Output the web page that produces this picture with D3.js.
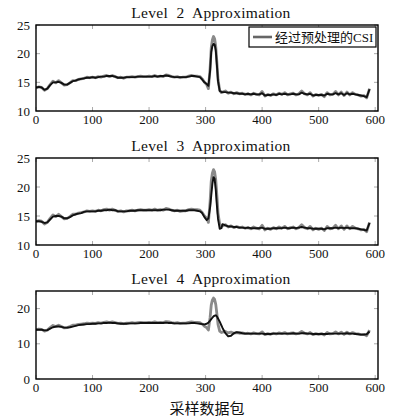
<!DOCTYPE html>
<html><head><meta charset="utf-8">
<script src="https://cdn.jsdelivr.net/npm/d3@7"></script>
<style>
body{margin:0;background:#fff;}
svg{display:block;}
.serif{font-family:"Liberation Serif","DejaVu Serif",serif;}
.cjk{font-family:"Noto Sans CJK SC",sans-serif;}
.leg{font-family:"Liberation Serif","Noto Sans CJK SC",serif;}
</style></head>
<body>
<svg id="c" width="394" height="419"></svg>
<script>
// ---- data ----
const packets = [0,5,10,15,20,25,30,35,40,45,50,55,60,65,70,75,80,85,90,95,
100,105,110,115,120,125,130,135,140,145,150,155,160,165,170,175,180,185,190,195,
200,205,210,215,220,225,230,235,240,245,250,255,260,265,270,275,280,285,290,
294,298,302,305,308,310,312,314,316,318,320,322,325,328,
330,335,340,345,350,355,360,365,370,375,380,385,390,395,400,405,410,415,420,425,
430,435,440,445,450,455,460,465,470,475,480,485,490,495,500,505,510,515,520,525,
530,535,540,545,550,555,560,565,570,575,580,585,590];

const csiRaw = [14.0,14.2,14.1,13.6,13.9,14.6,15.2,14.9,15.3,14.9,
14.5,14.6,14.9,15.3,15.3,15.5,15.6,15.7,15.9,15.8,
15.9,15.8,16.0,15.9,16.1,16.2,16.0,16.2,16.0,15.8,
15.9,15.7,15.9,15.9,16.0,15.9,16.0,16.1,16.0,16.0,
16.1,16.0,16.2,16.0,16.1,16.0,16.3,16.2,16.0,15.9,
16.0,15.8,15.9,15.9,16.1,16.2,16.1,16.1,16.0,
15.6,15.0,14.6,13.9,17.5,21.0,22.4,23.0,22.6,21.2,18.5,15.5,13.6,13.2,
13.3,13.5,13.1,13.3,13.0,13.2,13.0,13.1,12.9,13.0,
12.8,13.1,12.9,12.8,13.4,12.6,12.9,12.7,13.0,12.8,
13.1,12.9,13.2,12.8,13.0,13.1,12.8,13.0,13.5,13.0,
12.8,13.2,12.6,12.9,12.7,12.9,12.5,13.2,12.8,12.9,
13.4,12.8,13.3,12.7,13.3,12.8,13.2,12.9,12.8,12.6,
12.7,12.3,13.9];

const approx2 = [14.1,14.2,14.1,13.7,13.9,14.5,15.0,15.0,15.1,14.9,
14.6,14.6,14.9,15.2,15.3,15.5,15.6,15.7,15.8,15.8,
15.9,15.8,15.9,16.0,16.0,16.1,16.1,16.1,16.0,15.8,
15.8,15.8,15.9,15.9,15.9,15.9,16.0,16.0,16.0,16.0,
16.0,16.0,16.1,16.0,16.1,16.1,16.2,16.1,16.0,15.9,
15.9,15.9,15.9,15.9,16.0,16.1,16.1,16.0,15.9,
15.5,15.0,14.7,14.4,17.0,20.3,21.3,21.7,21.6,20.6,18.0,15.2,13.5,13.3,
13.3,13.3,13.2,13.2,13.1,13.1,13.0,13.0,12.9,13.0,
12.9,13.0,12.9,12.9,13.1,12.7,12.8,12.8,12.9,12.8,
13.0,12.9,13.0,12.9,12.9,13.0,12.9,12.9,13.2,13.0,
12.9,13.0,12.7,12.8,12.8,12.8,12.7,13.0,12.9,12.9,
13.1,12.9,13.1,12.8,13.1,12.9,13.0,12.9,12.8,12.7,
12.6,12.4,13.8];

const approx3 = [14.1,14.1,14.0,13.8,13.9,14.4,14.9,15.0,15.0,14.9,
14.6,14.6,14.8,15.1,15.3,15.4,15.5,15.7,15.8,15.8,
15.8,15.8,15.9,15.9,16.0,16.0,16.1,16.0,16.0,15.8,
15.8,15.8,15.8,15.9,15.9,15.9,16.0,16.0,16.0,16.0,
16.0,16.0,16.0,16.0,16.0,16.1,16.1,16.1,16.0,15.9,
15.9,15.9,15.9,15.9,16.0,16.0,16.0,15.9,15.8,
15.5,14.8,14.3,14.6,16.5,18.5,20.5,21.7,21.4,19.5,16.8,14.5,12.8,12.9,
13.6,13.4,13.2,13.2,13.1,13.1,13.0,13.0,12.9,13.0,
12.9,12.9,12.9,12.9,13.0,12.8,12.8,12.8,12.9,12.9,
12.9,12.9,13.0,12.9,12.9,13.0,12.9,13.0,13.1,13.0,
12.9,12.9,12.8,12.8,12.8,12.8,12.7,12.9,12.9,12.9,
13.0,12.9,13.0,12.9,13.0,12.9,12.9,12.9,12.8,12.7,
12.6,12.5,13.8];

const approx4 = [14.0,14.0,14.0,13.8,13.9,14.3,14.7,14.9,14.9,14.8,
14.6,14.6,14.7,14.9,15.1,15.3,15.4,15.5,15.6,15.6,
15.7,15.7,15.8,15.8,15.9,15.9,16.0,15.9,15.9,15.8,
15.7,15.7,15.7,15.8,15.8,15.8,15.8,15.9,15.9,15.9,
15.9,15.9,15.9,15.9,15.9,15.9,16.0,15.9,15.9,15.8,
15.8,15.8,15.8,15.8,15.8,15.9,15.9,15.8,15.7,
15.6,15.5,15.7,16.0,16.6,17.0,17.4,17.8,18.0,18.1,17.8,17.2,16.3,15.2,
14.5,13.0,12.1,12.3,13.0,13.3,13.2,13.0,12.9,12.9,
12.9,12.9,12.9,12.9,12.9,12.8,12.8,12.8,12.9,12.9,
12.9,12.9,12.9,12.9,12.9,13.0,12.9,12.9,13.0,13.0,
12.9,12.9,12.8,12.8,12.8,12.8,12.8,12.8,12.9,12.9,
12.9,12.9,12.9,12.9,13.0,12.9,12.9,12.8,12.7,12.6,
12.6,12.7,13.5];

const titles = ["Level  2  Approximation","Level  3  Approximation","Level  4  Approximation"];
const xTicks = [0,100,200,300,400,500,600];
const yTicksA = [10,15,20,25];
const yTicksB = [0,10,20];
const legendLabel = "经过预处理的CSI";
const xLabel = "采样数据包";

// ---- layout ----
const svg = d3.select("#c");
const left = 36, right = 378;
const panels = [
  {top:25, bottom:111, domain:[10,25], ticks:yTicksA, approx:approx2, title:titles[0], ty:18},
  {top:158, bottom:245, domain:[10,25], ticks:yTicksA, approx:approx3, title:titles[1], ty:151},
  {top:291, bottom:379, domain:[0,25], ticks:yTicksB, approx:approx4, title:titles[2], ty:284}
];
const x = d3.scaleLinear().domain([0,605]).range([left,right]);

panels.forEach((p,i)=>{
  const y = d3.scaleLinear().domain(p.domain).range([p.bottom,p.top]);
  const g = svg.append("g");
  const cid = "clip"+i;
  g.append("clipPath").attr("id",cid).append("rect")
    .attr("x",left).attr("y",p.top).attr("width",right-left).attr("height",p.bottom-p.top);

  // inner ticks
  const tk = g.append("g").attr("stroke","#aaa").attr("stroke-width",1);
  xTicks.forEach(t=>{
    tk.append("line").attr("x1",x(t)).attr("x2",x(t)).attr("y1",p.bottom).attr("y2",p.bottom-4);
    tk.append("line").attr("x1",x(t)).attr("x2",x(t)).attr("y1",p.top).attr("y2",p.top+4);
  });
  p.ticks.forEach(t=>{
    tk.append("line").attr("x1",left).attr("x2",left+4).attr("y1",y(t)).attr("y2",y(t));
    tk.append("line").attr("x1",right).attr("x2",right-4).attr("y1",y(t)).attr("y2",y(t));
  });

  const line = d3.line().x((d,j)=>x(packets[j])).y(d=>y(d));
  const lg = g.append("g").attr("clip-path",`url(#${cid})`);
  lg.append("path").datum(csiRaw).attr("d",line)
    .attr("fill","none").attr("stroke","#8a8a8a").attr("stroke-width",2.8).attr("stroke-linejoin","round");
  lg.append("path").datum(p.approx).attr("d",line)
    .attr("fill","none").attr("stroke","#111").attr("stroke-width",1.9).attr("stroke-linejoin","round");

  // frame
  g.append("rect").attr("x",left).attr("y",p.top).attr("width",right-left).attr("height",p.bottom-p.top)
    .attr("fill","none").attr("stroke","#000").attr("stroke-width",1.4);

  // tick labels
  xTicks.forEach(t=>{
    g.append("text").attr("class","serif").attr("x",x(t)).attr("y",p.bottom+13).attr("text-anchor","middle")
      .style("font-size","13px").attr("fill","#111").text(t);
  });
  p.ticks.forEach(t=>{
    g.append("text").attr("class","serif").attr("x",30).attr("y",y(t)+4.5).attr("text-anchor","end")
      .style("font-size","13px").attr("fill","#111").text(t);
  });

  // title
  g.append("text").attr("class","serif").attr("x",(left+right)/2+4).attr("y",p.ty).attr("text-anchor","middle")
    .style("font-size","15.5px").style("letter-spacing","0.3px")
    .style("white-space","pre").attr("fill","#111").text(p.title);

  if(i===0){
    const lgd = g.append("g");
    lgd.append("rect").attr("x",249).attr("y",27).attr("width",127).attr("height",20)
      .attr("fill","#fff").attr("stroke","#000").attr("stroke-width",1.2);
    lgd.append("line").attr("x1",253).attr("x2",272).attr("y1",37).attr("y2",37)
      .attr("stroke","#666").attr("stroke-width",2.6);
    lgd.append("text").attr("class","leg").attr("x",275).attr("y",42).style("font-size","13px")
      .attr("fill","#111").text(legendLabel);
  }
});

svg.append("text").attr("class","cjk").attr("x",(left+right)/2).attr("y",414).attr("text-anchor","middle")
  .style("font-size","15px").attr("fill","#111").text(xLabel);
</script>
</body></html>
